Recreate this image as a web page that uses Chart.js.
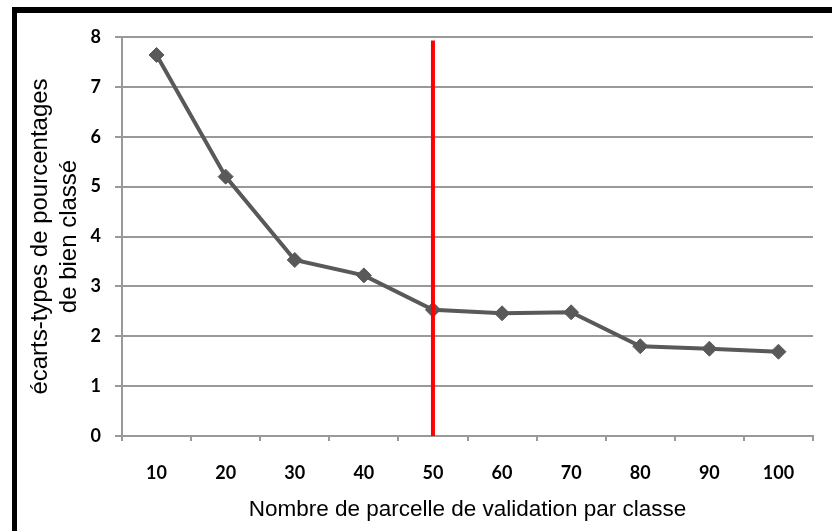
<!DOCTYPE html>
<html>
<head>
<meta charset="utf-8">
<script src="https://cdn.jsdelivr.net/npm/chart.js@4"></script>
<style>
  body { margin: 0; background: #fff; }
  #wrap { position: relative; width: 832px; height: 531px; }
  #topBar { position: absolute; left: 12px; top: 7px; width: 820px; height: 6px; background: #000; }
  #leftBar { position: absolute; left: 12px; top: 7px; width: 5px; height: 524px; background: #000; }
</style>
</head>
<body>
<div id="wrap">
  <canvas id="ecartChart" width="832" height="531"></canvas>
  <div id="topBar"></div>
  <div id="leftBar"></div>
</div>
<script>
const categories = ['10', '20', '30', '40', '50', '60', '70', '80', '90', '100'];
const ecartValues = [7.64, 5.2, 3.53, 3.22, 2.53, 2.46, 2.48, 1.8, 1.75, 1.69];
const markerCategory = '50';
const markerRange = [0, 7.93];
const yTicks = [0, 1, 2, 3, 4, 5, 6, 7, 8];

const gridGray = '#999999';
const tickFont = { family: 'Lato', weight: 'bold', size: 18 };

const ctx = document.getElementById('ecartChart').getContext('2d');

new Chart(ctx, {
    type: 'line',
    data: {
        labels: categories,
        datasets: [{
            // vertical red line at 50
            data: markerRange.map(v => ({ x: markerCategory, y: v })),
            borderColor: '#ff0000',
            borderWidth: 4,
            pointRadius: 0,
            order: 0
        }, {
            data: ecartValues,
            borderColor: '#595959',
            backgroundColor: '#595959',
            borderWidth: 4,
            pointStyle: 'rectRot',
            pointRadius: 7.5,
            pointBorderWidth: 1,
            order: 1
        }]
    },
    options: {
        responsive: false,
        animation: false,
        layout: { padding: { top: 37, right: 19, left: 0, bottom: 0 } },
        plugins: { legend: { display: false }, tooltip: { enabled: false } },
        scales: {
            x: {
                offset: true,
                grid: {
                    offset: true,
                    color: c => c.index === categories.length ? gridGray : 'rgba(0,0,0,0)',
                    lineWidth: 2,
                    tickColor: gridGray,
                    tickLength: 5
                },
                border: { color: gridGray, width: 2 },
                ticks: { color: '#000', font: tickFont, padding: 21, maxRotation: 0 },
                title: {
                    display: true,
                    text: 'Nombre de parcelle de validation par classe',
                    color: '#000',
                    font: { family: 'Liberation Sans', size: 22.5 },
                    padding: { top: 0, bottom: 8 }
                },
                afterFit: s => { s.height = 95; }
            },
            y: {
                min: 0,
                max: 8,
                afterBuildTicks: s => { s.ticks = yTicks.map(v => ({ value: v })); },
                grid: { color: gridGray, lineWidth: 2, tickLength: 7 },
                border: { color: gridGray, width: 2 },
                ticks: { color: '#000', font: tickFont, padding: 14 },
                title: {
                    display: true,
                    text: ['écarts-types de pourcentages', 'de bien classé'],
                    color: '#000',
                    font: { family: 'Liberation Sans', size: 24 },
                    padding: { top: 26, bottom: 0 }
                },
                afterFit: s => { s.width = 122; }
            }
        }
    }
});
</script>
</body>
</html>
